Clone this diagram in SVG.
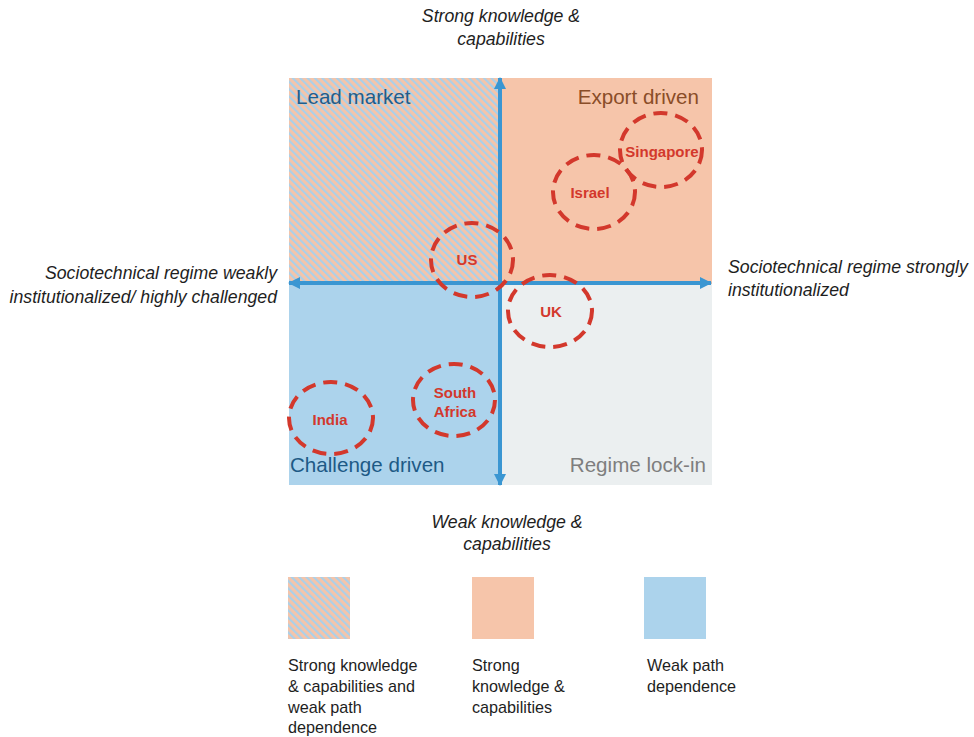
<svg xmlns="http://www.w3.org/2000/svg" width="974" height="737" viewBox="0 0 974 737">
<style>
.axis{stroke:#3a96d2;stroke-width:4;fill:none}
.ring{fill:none;stroke:#d3382c;stroke-width:4;stroke-dasharray:14 8}
.lbl{font-family:"Liberation Sans",Arial,sans-serif;font-weight:bold;font-size:15px;fill:#d3382c;text-anchor:middle}
.quad{font-family:"Liberation Sans",Arial,sans-serif;font-size:20.6px}
.ax{font-family:"Liberation Sans",Arial,sans-serif;font-style:italic;font-size:17.7px;fill:#1e1e1e}
.leg{font-family:"Liberation Sans",Arial,sans-serif;font-size:16.2px;fill:#1e1e1e}
</style>
<defs>
<pattern id="hatch" width="5.2" height="5.2" patternUnits="userSpaceOnUse" patternTransform="rotate(-45)">
<rect width="5.2" height="5.2" fill="#f5c4a9"/>
<rect width="2.1" height="5.2" fill="#a9d0ea"/>
</pattern>
<marker id="ah" viewBox="0 0 12 12" refX="11" refY="6" markerWidth="12" markerHeight="12" markerUnits="userSpaceOnUse" orient="auto-start-reverse">
<path d="M0,0 L12,6 L0,12 Z" fill="#3a96d2"/>
</marker>
</defs>
<rect width="974" height="737" fill="#ffffff"/>

<g id="quadrants">
<rect x="289" y="78" width="211" height="206" fill="url(#hatch)"/>
<rect x="500" y="78" width="212" height="206" fill="#f6c5aa"/>
<rect x="289" y="284" width="211" height="201" fill="#acd3ec"/>
<rect x="500" y="284" width="212" height="201" fill="#ebeff0"/>
<text class="quad" x="296" y="104" fill="#1f5d8c">Lead market</text>
<text class="quad" x="699" y="104" fill="#8a4d28" text-anchor="end">Export driven</text>
<text class="quad" x="290" y="472" fill="#1d5a86">Challenge driven</text>
<text class="quad" x="706" y="472" fill="#7e7e7e" text-anchor="end">Regime lock-in</text>
</g>

<g id="connectors">
<line class="axis" x1="500" y1="78" x2="500" y2="485" marker-start="url(#ah)" marker-end="url(#ah)"/>
<line class="axis" x1="289" y1="283" x2="711" y2="283" marker-start="url(#ah)" marker-end="url(#ah)"/>
</g>

<g id="node-us"><ellipse class="ring" cx="472" cy="260" rx="41" ry="37"/><text class="lbl" x="467" y="265">US</text></g>
<g id="node-uk"><ellipse class="ring" cx="550" cy="311" rx="42" ry="36"/><text class="lbl" x="551" y="317">UK</text></g>
<g id="node-israel"><ellipse class="ring" cx="594" cy="192" rx="41" ry="37"/><text class="lbl" x="590" y="198">Israel</text></g>
<g id="node-singapore"><ellipse class="ring" cx="661" cy="150" rx="41" ry="37"/><text class="lbl" x="662" y="157">Singapore</text></g>
<g id="node-india"><ellipse class="ring" cx="331" cy="418" rx="42" ry="36"/><text class="lbl" x="330" y="425">India</text></g>
<g id="node-southafrica"><ellipse class="ring" cx="454" cy="400" rx="41" ry="36"/><text class="lbl" x="455" y="398">South</text><text class="lbl" x="455" y="417">Africa</text></g>

<g id="axis-labels">
<text class="ax" x="501" y="22" text-anchor="middle">Strong knowledge &amp;</text>
<text class="ax" x="501" y="45" text-anchor="middle">capabilities</text>
<text class="ax" x="277" y="279" text-anchor="end">Sociotechnical regime weakly</text>
<text class="ax" x="277" y="303" text-anchor="end">institutionalized/ highly challenged</text>
<text class="ax" x="728" y="273">Sociotechnical regime strongly</text>
<text class="ax" x="728" y="296">institutionalized</text>
<text class="ax" x="507" y="528" text-anchor="middle">Weak knowledge &amp;</text>
<text class="ax" x="507" y="550" text-anchor="middle">capabilities</text>
</g>

<g id="legend">
<rect x="288" y="577" width="62" height="62" fill="url(#hatch)"/>
<rect x="472" y="577" width="62" height="62" fill="#f6c5aa"/>
<rect x="644" y="577" width="62" height="62" fill="#acd3ec"/>
<text class="leg" x="288" y="671">Strong knowledge</text>
<text class="leg" x="288" y="692">&amp; capabilities and</text>
<text class="leg" x="288" y="713">weak path</text>
<text class="leg" x="288" y="733">dependence</text>
<text class="leg" x="472" y="671">Strong</text>
<text class="leg" x="472" y="692">knowledge &amp;</text>
<text class="leg" x="472" y="713">capabilities</text>
<text class="leg" x="647" y="671">Weak path</text>
<text class="leg" x="647" y="692">dependence</text>
</g>
</svg>
